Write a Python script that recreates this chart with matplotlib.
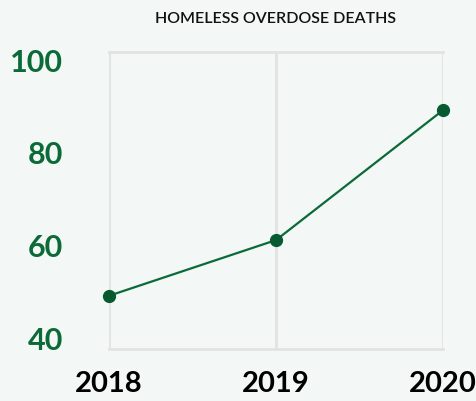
import matplotlib.pyplot as plt

# data
years = [2018, 2019, 2020]
deaths = [49, 61, 89]
y_ticks = [40, 60, 80, 100]
title = 'HOMELESS OVERDOSE DEATHS'

bg = '#f3f7f5'
green = '#0b6a38'
grid_col = '#e1e3e2'

fig = plt.figure(figsize=(4.76, 4.02), dpi=100, facecolor=bg)
ax = fig.add_axes([0.229, 0.129, 0.702, 0.739], facecolor=bg)

ax.plot(years, deaths, color=green, linewidth=1.6, marker='o', markersize=8.5,
        markerfacecolor='#075a30', markeredgecolor='#075a30', clip_on=False, zorder=3)

ax.set_xlim(2018, 2020)
ax.set_ylim(37.5, 101.5)
ax.set_xticks(years)
ax.set_xticklabels([str(y) for y in years])
ax.set_yticks(y_ticks)

# vertical grid + frame lines
for x in years:
    ax.axvline(x, color=grid_col, linewidth=2, zorder=1)
for s in ['left', 'right']:
    ax.spines[s].set_visible(False)
for s in ['top', 'bottom']:
    ax.spines[s].set_color(grid_col)
    ax.spines[s].set_linewidth(2)

ax.tick_params(axis='both', length=0)
ax.tick_params(axis='y', pad=33, labelsize=22, labelcolor=green)
ax.tick_params(axis='x', pad=15, labelsize=21, labelcolor='black')
for lab in ax.get_yticklabels() + ax.get_xticklabels():
    lab.set_fontfamily('Lato')
    lab.set_fontweight('bold')

fig.text(0.578, 0.953, title, ha='center', va='center', fontsize=11.5,
         family='Lato', fontweight='semibold', color='#111111')

plt.savefig('out.png', dpi=100, facecolor=bg)
